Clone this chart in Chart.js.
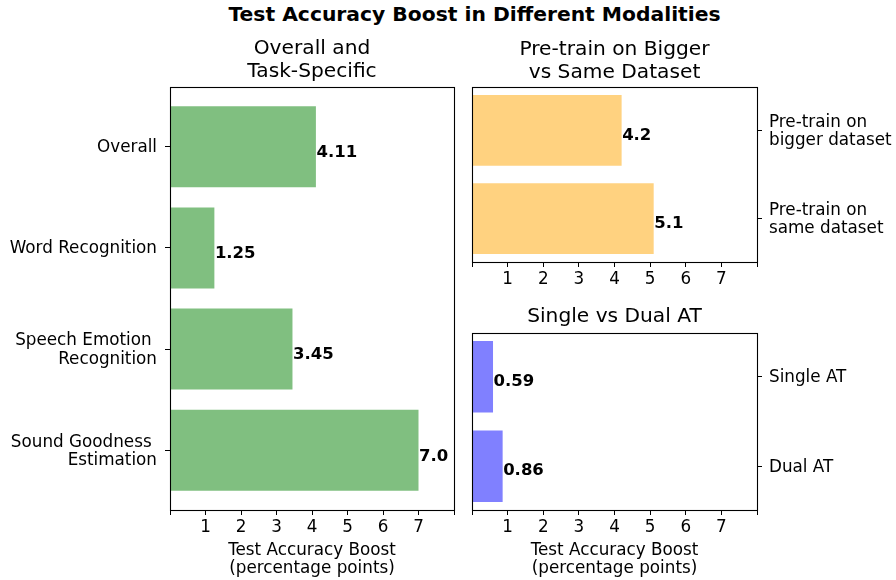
<!DOCTYPE html>
<html>
<head>
<meta charset="utf-8">
<script src="https://cdn.jsdelivr.net/npm/chart.js@4.4.1/dist/chart.umd.min.js"></script>
<style>
  html, body { margin: 0; padding: 0; background: #fff; }
  body { width: 896px; height: 580px; position: relative; overflow: hidden; font-family: 'DejaVu Sans', sans-serif; }
  canvas { position: absolute; }
  #suptitle { position: absolute; left: 0; top: 4px; width: 949px; text-align: center; font: bold 20.3px 'DejaVu Sans'; line-height: 20px; color: #000; }
</style>
</head>
<body>
<div id="suptitle">Test Accuracy Boost in Different Modalities</div>
<canvas id="c1" width="470" height="580" style="left:0px;top:0px"></canvas>
<canvas id="c2" width="434" height="300" style="left:462px;top:0px"></canvas>
<canvas id="c3" width="434" height="290" style="left:462px;top:290px"></canvas>
<script>
// ---------------- DATA ----------------
const taskCategories = [['Overall'], ['Word Recognition'], ['Speech Emotion ', 'Recognition'], ['Sound Goodness ', 'Estimation']];
const taskValues = [4.11, 1.25, 3.45, 7.0];

const pretrainCategories = [['Pre-train on', 'bigger dataset'], ['Pre-train on', 'same dataset']];
const pretrainValues = [4.2, 5.1];

const atCategories = ['Single AT', 'Dual AT'];
const atValues = [0.59, 0.86];

const xTickValues = [0, 1, 2, 3, 4, 5, 6, 7, 8];
const xTickLabels = ['', '1', '2', '3', '4', '5', '6', '7', ''];
const xAxisTitle = ['Test Accuracy Boost', '(percentage points)'];

const panelTitles = {
  task: ['Overall and', 'Task-Specific'],
  pretrain: ['Pre-train on Bigger', 'vs Same Dataset'],
  at: ['Single vs Dual AT']
};
// --------------------------------------

const FONT = "'DejaVu Sans', sans-serif";
const LBL = 16.8;

Chart.defaults.font.family = FONT;
Chart.defaults.font.size = LBL;
Chart.defaults.color = '#000';

function fmt(v) { return Number.isInteger(v) ? v.toFixed(1) : String(v); }

const framePlugin = {
  id: 'frame',
  afterDatasetsDraw(chart) {
    const a = chart.chartArea, ctx = chart.ctx;
    ctx.save();
    ctx.strokeStyle = '#000';
    ctx.lineWidth = 1.1;
    ctx.strokeRect(Math.round(a.left) + 0.5, Math.round(a.top) + 0.5, Math.round(a.right - a.left), Math.round(a.bottom - a.top));
    ctx.restore();
  }
};

const valueLabelPlugin = {
  id: 'valueLabels',
  afterDatasetsDraw(chart) {
    const ctx = chart.ctx;
    const off = chart.options.plugins.valueLabels.dy;
    const meta = chart.getDatasetMeta(0);
    const vals = chart.data.datasets[0].data;
    ctx.save();
    ctx.font = 'bold 16.5px ' + FONT;
    ctx.fillStyle = '#000';
    ctx.textAlign = 'left';
    ctx.textBaseline = 'alphabetic';
    meta.data.forEach((bar, i) => {
      ctx.fillText(fmt(vals[i].x), bar.x + 0.5, bar.y + off);
    });
    ctx.restore();
  }
};

const panelTitlePlugin = {
  id: 'panelTitle',
  afterDraw(chart) {
    const o = chart.options.plugins.panelTitle;
    const ctx = chart.ctx, a = chart.chartArea;
    ctx.save();
    ctx.font = '20.2px ' + FONT;
    ctx.fillStyle = '#000';
    ctx.textAlign = 'center';
    ctx.textBaseline = 'alphabetic';
    const cx = (a.left + a.right) / 2;
    o.lines.forEach((t, i) => ctx.fillText(t, cx, o.y + i * o.lh));
    ctx.restore();
  }
};

function makeChart(id, cats, vals, color, opts) {
  const data = vals.map((v, i) => ({ x: v, y: i }));
  const n = cats.length;
  const margin = (n - 1 + 0.8) * 0.05;
  return new Chart(document.getElementById(id), {
    type: 'bar',
    data: {
      datasets: [{
        data: data,
        backgroundColor: color,
        borderWidth: 0,
        barPercentage: 0.8,
        categoryPercentage: 1.0
      }]
    },
    options: {
      indexAxis: 'y',
      responsive: false,
      animation: false,
      devicePixelRatio: 1,
      layout: { padding: opts.padding },
      plugins: {
        legend: { display: false },
        tooltip: { enabled: false },
        title: { display: false },
        valueLabels: { dy: opts.dy },
        panelTitle: { lines: opts.title, y: opts.titleY, lh: 22.5 }
      },
      scales: {
        x: {
          type: 'linear',
          position: 'bottom',
          min: 0,
          max: 8,
          offset: false,
          afterBuildTicks: s => { s.ticks = xTickValues.map(v => ({ value: v })); },
          ticks: {
            autoSkip: false,
            maxRotation: 0,
            padding: 3,
            color: '#000',
            font: { size: LBL },
            callback: (v) => xTickLabels[xTickValues.indexOf(v)]
          },
          grid: { offset: false, drawOnChartArea: false, drawTicks: true, tickLength: 5, color: '#000', tickColor: '#000', tickWidth: 1 },
          border: { display: true, color: '#000', width: 1 },
          title: {
            display: opts.xTitle,
            text: xAxisTitle,
            color: '#000',
            font: { size: LBL, lineHeight: 1.1 },
            padding: { top: 0, bottom: 2 }
          },
          afterFit: s => { s.height = opts.xHeight; }
        },
        y: {
          type: 'linear',
          position: opts.yPos,
          reverse: true,
          offset: false,
          min: -0.4 - margin,
          max: n - 1 + 0.4 + margin,
          afterBuildTicks: s => { s.ticks = cats.map((_, i) => ({ value: i })); },
          ticks: {
            autoSkip: false,
            padding: opts.yPad,
            labelOffset: 1,
            color: '#000',
            font: { size: LBL, lineHeight: 1.08 },
            callback: (v) => cats[v]
          },
          grid: { offset: false, drawOnChartArea: false, drawTicks: true, tickLength: 5, color: '#000', tickColor: '#000', tickWidth: 1 },
          border: { display: true, color: '#000', width: 1 },
          afterFit: s => { s.width = opts.yWidth; }
        }
      }
    },
    plugins: [framePlugin, valueLabelPlugin, panelTitlePlugin]
  });
}

makeChart('c1', taskCategories, taskValues, 'rgba(128,191,128,1)', {
  padding: { top: 87, right: 16, left: 0, bottom: 0 },
  yPos: 'left', yWidth: 170, yPad: 8, xHeight: 70, xTitle: true,
  title: panelTitles.task, titleY: 54.3, dy: 10.3
});

makeChart('c2', pretrainCategories, pretrainValues, 'rgba(255,210,128,1)', {
  padding: { top: 87, right: 0, left: 10, bottom: 0 },
  yPos: 'right', yWidth: 139, yPad: 7, xHeight: 38, xTitle: false,
  title: panelTitles.pretrain, titleY: 55, dy: 9.4
});

makeChart('c3', atCategories, atValues, 'rgba(128,128,255,1)', {
  padding: { top: 43, right: 0, left: 10, bottom: 0 },
  yPos: 'right', yWidth: 139, yPad: 7, xHeight: 70, xTitle: true,
  title: panelTitles.at, titleY: 32.3, dy: 9.2
});
</script>
</body>
</html>
